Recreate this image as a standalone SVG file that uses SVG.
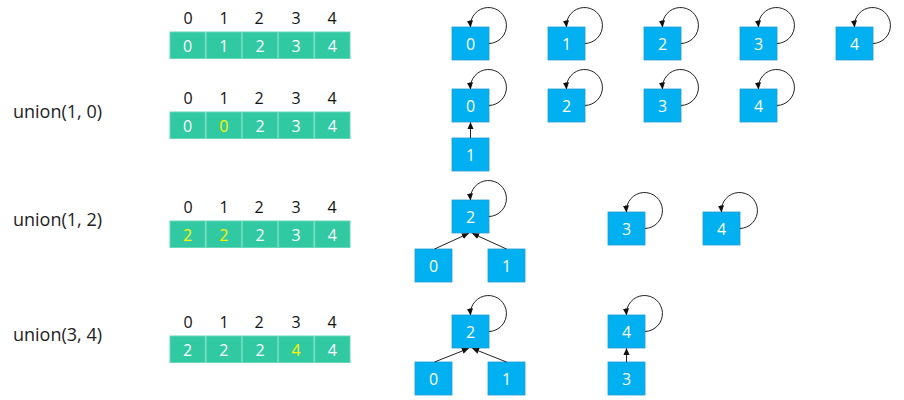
<svg xmlns="http://www.w3.org/2000/svg" width="904" height="400" viewBox="0 0 904 400">
<style>
.lbl{font-family:"Open Sans","Noto Sans",sans-serif;font-size:18px;fill:#222}
.hd{font-family:"Open Sans","Noto Sans",sans-serif;font-size:16px;fill:#111;text-anchor:middle}
.cell{fill:#30C9A1;stroke:#66D7B9;stroke-width:1}
.cv{font-family:"Open Sans","Noto Sans",sans-serif;font-size:16px;fill:#fff;text-anchor:middle}
.y{fill:#FFF200}
.nb{fill:#00B0F0;stroke:#1E9FD6;stroke-width:0.8}
.nt{font-family:"Open Sans","Noto Sans",sans-serif;font-size:16px;fill:#fff;text-anchor:middle}
.e{fill:none;stroke:#222;stroke-width:1;marker-end:url(#ah)}
</style>
<defs>
<marker id="ah" viewBox="0 0 8 8" refX="7.5" refY="4" markerWidth="7" markerHeight="7" markerUnits="userSpaceOnUse" orient="auto">
<path d="M0,0.5 L8,4 L0,7.5 Z" fill="#111"/>
</marker>
<g id="hdr">
<text class="hd" x="188" y="0">0</text><text class="hd" x="224" y="0">1</text><text class="hd" x="259" y="0">2</text><text class="hd" x="296" y="0">3</text><text class="hd" x="332" y="0">4</text>
</g>
<g id="cells">
<rect class="cell" x="170" y="0" width="35.2" height="26.5"/>
<rect class="cell" x="206.2" y="0" width="35.2" height="26.5"/>
<rect class="cell" x="242.4" y="0" width="35.2" height="26.5"/>
<rect class="cell" x="278.6" y="0" width="35.2" height="26.5"/>
<rect class="cell" x="314.8" y="0" width="35.2" height="26.5"/>
</g>
</defs>

<g id="labels">
<text class="lbl" x="13" y="118">union(1, 0)</text>
<text class="lbl" x="13" y="226">union(1, 2)</text>
<text class="lbl" x="13" y="341">union(3, 4)</text>
</g>

<g id="array-row1">
<use href="#hdr" y="23.5"/>
<use href="#cells" y="32"/>
<text class="cv" x="187.6" y="51.5">0</text><text class="cv" x="223.8" y="51.5">1</text><text class="cv" x="260" y="51.5">2</text><text class="cv" x="296.2" y="51.5">3</text><text class="cv" x="332.4" y="51.5">4</text>
</g>
<g id="array-row2">
<use href="#hdr" y="103.5"/>
<use href="#cells" y="112"/>
<text class="cv" x="187.6" y="131.5">0</text><text class="cv y" x="223.8" y="131.5">0</text><text class="cv" x="260" y="131.5">2</text><text class="cv" x="296.2" y="131.5">3</text><text class="cv" x="332.4" y="131.5">4</text>
</g>
<g id="array-row3">
<use href="#hdr" y="212.5"/>
<use href="#cells" y="221"/>
<text class="cv y" x="187.6" y="240.5">2</text><text class="cv y" x="223.8" y="240.5">2</text><text class="cv" x="260" y="240.5">2</text><text class="cv" x="296.2" y="240.5">3</text><text class="cv" x="332.4" y="240.5">4</text>
</g>
<g id="array-row4">
<use href="#hdr" y="327.5"/>
<use href="#cells" y="336"/>
<text class="cv" x="187.6" y="355.5">2</text><text class="cv" x="223.8" y="355.5">2</text><text class="cv" x="260" y="355.5">2</text><text class="cv y" x="296.2" y="355.5">4</text><text class="cv" x="332.4" y="355.5">4</text>
</g>

<!-- Row 1 nodes -->
<g id="r1n0"><rect class="nb" x="452" y="27" width="37" height="33"/><text class="nt" x="470.5" y="49.5">0</text></g>
<g id="r1n1"><rect class="nb" x="548" y="27" width="37" height="33"/><text class="nt" x="566.5" y="49.5">1</text></g>
<g id="r1n2"><rect class="nb" x="644" y="27" width="37" height="33"/><text class="nt" x="662.5" y="49.5">2</text></g>
<g id="r1n3"><rect class="nb" x="740" y="27" width="37" height="33"/><text class="nt" x="758.5" y="49.5">3</text></g>
<g id="r1n4"><rect class="nb" x="836" y="27" width="37" height="33"/><text class="nt" x="854.5" y="49.5">4</text></g>

<!-- Row 2 nodes -->
<g id="r2n0"><rect class="nb" x="452" y="89" width="37" height="33"/><text class="nt" x="470.5" y="111.5">0</text></g>
<g id="r2n1"><rect class="nb" x="452" y="138" width="37" height="33"/><text class="nt" x="470.5" y="160.5">1</text></g>
<g id="r2n2"><rect class="nb" x="548" y="89" width="37" height="33"/><text class="nt" x="566.5" y="111.5">2</text></g>
<g id="r2n3"><rect class="nb" x="644" y="89" width="37" height="33"/><text class="nt" x="662.5" y="111.5">3</text></g>
<g id="r2n4"><rect class="nb" x="740" y="89" width="37" height="33"/><text class="nt" x="758.5" y="111.5">4</text></g>

<!-- Row 3 nodes -->
<g id="r3n2"><rect class="nb" x="452" y="200" width="37" height="33"/><text class="nt" x="470.5" y="222.5">2</text></g>
<g id="r3n0"><rect class="nb" x="415" y="249" width="37" height="33"/><text class="nt" x="433.5" y="271.5">0</text></g>
<g id="r3n1"><rect class="nb" x="488" y="249" width="37" height="33"/><text class="nt" x="506.5" y="271.5">1</text></g>
<g id="r3n3"><rect class="nb" x="608" y="212" width="37" height="33"/><text class="nt" x="626.5" y="234.5">3</text></g>
<g id="r3n4"><rect class="nb" x="703" y="212" width="37" height="33"/><text class="nt" x="721.5" y="234.5">4</text></g>

<!-- Row 4 nodes -->
<g id="r4n2"><rect class="nb" x="452" y="315" width="37" height="33"/><text class="nt" x="470.5" y="337.5">2</text></g>
<g id="r4n0"><rect class="nb" x="415" y="362" width="37" height="33"/><text class="nt" x="433.5" y="384.5">0</text></g>
<g id="r4n1"><rect class="nb" x="488" y="362" width="37" height="33"/><text class="nt" x="506.5" y="384.5">1</text></g>
<g id="r4n4"><rect class="nb" x="608" y="315" width="37" height="33"/><text class="nt" x="626.5" y="337.5">4</text></g>
<g id="r4n3"><rect class="nb" x="608" y="362" width="37" height="33"/><text class="nt" x="626.5" y="384.5">3</text></g>

<g id="connectors">
<path class="e" d="M489,43.5 A18,18 0 1 0 470.5,27"/>
<path class="e" d="M585,43.5 A18,18 0 1 0 566.5,27"/>
<path class="e" d="M681,43.5 A18,18 0 1 0 662.5,27"/>
<path class="e" d="M777,43.5 A18,18 0 1 0 758.5,27"/>
<path class="e" d="M873,43.5 A18,18 0 1 0 854.5,27"/>
<path class="e" d="M489,105.5 A18,18 0 1 0 470.5,89"/>
<path class="e" d="M585,105.5 A18,18 0 1 0 566.5,89"/>
<path class="e" d="M681,105.5 A18,18 0 1 0 662.5,89"/>
<path class="e" d="M777,105.5 A18,18 0 1 0 758.5,89"/>
<path class="e" d="M470.5,138 L470.5,122.5"/>
<path class="e" d="M489,216.5 A18,18 0 1 0 470.5,200"/>
<path class="e" d="M645,228.5 A18,18 0 1 0 626.5,212"/>
<path class="e" d="M740,228.5 A18,18 0 1 0 721.5,212"/>
<path class="e" d="M434.5,249 L468.5,233.5"/>
<path class="e" d="M506.5,249 L472.5,233.5"/>
<path class="e" d="M489,331.5 A18,18 0 1 0 470.5,315"/>
<path class="e" d="M645,331.5 A18,18 0 1 0 626.5,315"/>
<path class="e" d="M434.5,362 L468.5,348.5"/>
<path class="e" d="M506.5,362 L472.5,348.5"/>
<path class="e" d="M626.5,362 L626.5,348.5"/>
</g>
</svg>
